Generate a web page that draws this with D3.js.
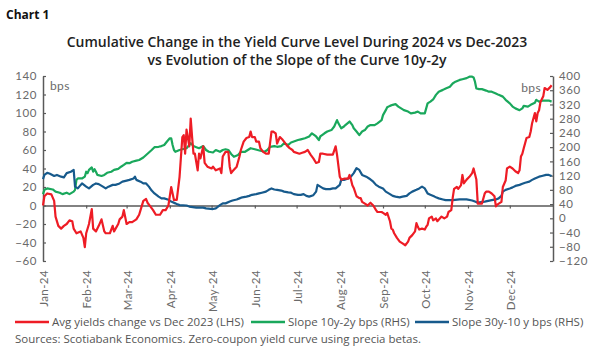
<!DOCTYPE html>
<html><head><meta charset="utf-8">
<script src="https://cdn.jsdelivr.net/npm/d3@7"></script>
<style>body{margin:0;background:#fff} svg{display:block}</style>
</head><body><svg id="c" width="592" height="350"></svg>
<script>
const redSeries = [["2024-01-01",0],["2024-01-02",10],["2024-01-04",13],["2024-01-07",12],["2024-01-09",5],["2024-01-10",-12],["2024-01-12",-22],["2024-01-14",-25],["2024-01-16",-22],["2024-01-18",-20],["2024-01-20",-16],["2024-01-22",-17],["2024-01-23",-25],["2024-01-25",-30],["2024-01-28",-28],["2024-01-30",-35],["2024-01-31",-45],["2024-02-01",-30],["2024-02-03",-20],["2024-02-05",-4],["2024-02-06",-25],["2024-02-08",-28],["2024-02-10",-22],["2024-02-12",-15],["2024-02-14",-28],["2024-02-15",-30],["2024-02-18",-30],["2024-02-20",-22],["2024-02-21",-28],["2024-02-24",-20],["2024-02-25",-15],["2024-02-27",-12],["2024-02-28",-5],["2024-03-01",-20],["2024-03-03",-18],["2024-03-05",-18],["2024-03-08",-15],["2024-03-10",-10],["2024-03-11",-5],["2024-03-13",5],["2024-03-15",7],["2024-03-16",3],["2024-03-18",-1],["2024-03-20",-5],["2024-03-22",-10],["2024-03-25",-10],["2024-03-27",-5],["2024-03-29",-5],["2024-03-31",0],["2024-04-02",20],["2024-04-04",6],["2024-04-06",6],["2024-04-08",31],["2024-04-10",74],["2024-04-11",76],["2024-04-12",56],["2024-04-13",82],["2024-04-15",64],["2024-04-16",94],["2024-04-17",74],["2024-04-18",56],["2024-04-19",56],["2024-04-21",38],["2024-04-22",56],["2024-04-23",51],["2024-04-25",64],["2024-04-26",46],["2024-04-28",42],["2024-05-01",40],["2024-05-02",42],["2024-05-04",38],["2024-05-07",40],["2024-05-08",35],["2024-05-09",53],["2024-05-11",58],["2024-05-13",58],["2024-05-14",42],["2024-05-15",35],["2024-05-16",37],["2024-05-19",42],["2024-05-21",53],["2024-05-22",60],["2024-05-24",69],["2024-05-26",73],["2024-05-28",74],["2024-05-29",80],["2024-05-30",74],["2024-06-01",74],["2024-06-02",69],["2024-06-04",69],["2024-06-05",62],["2024-06-07",58],["2024-06-09",56],["2024-06-11",56],["2024-06-13",80],["2024-06-14",80],["2024-06-16",78],["2024-06-17",67],["2024-06-19",74],["2024-06-21",71],["2024-06-22",69],["2024-06-24",65],["2024-06-26",62],["2024-06-28",60],["2024-06-29",58],["2024-07-03",56],["2024-07-05",57],["2024-07-07",58],["2024-07-09",60],["2024-07-11",55],["2024-07-13",51],["2024-07-15",46],["2024-07-17",47],["2024-07-18",56],["2024-07-20",56],["2024-07-23",55],["2024-07-27",55],["2024-07-29",64],["2024-07-30",55],["2024-08-01",31],["2024-08-02",28],["2024-08-04",29],["2024-08-07",29],["2024-08-08",33],["2024-08-09",28],["2024-08-10",22],["2024-08-11",19],["2024-08-13",10],["2024-08-15",8],["2024-08-16",8],["2024-08-17",4],["2024-08-19",2],["2024-08-21",0],["2024-08-23",3],["2024-08-25",0],["2024-08-27",-5],["2024-08-28",-7],["2024-08-31",-7],["2024-09-01",-8],["2024-09-03",-10],["2024-09-04",-8],["2024-09-06",-17],["2024-09-07",-25],["2024-09-08",-26],["2024-09-09",-30],["2024-09-11",-35],["2024-09-13",-39],["2024-09-15",-41],["2024-09-17",-43],["2024-09-19",-39],["2024-09-20",-35],["2024-09-22",-32],["2024-09-24",-28],["2024-09-25",-19],["2024-09-26",-23],["2024-09-27",-26],["2024-09-29",-25],["2024-10-01",-26],["2024-10-02",-23],["2024-10-03",-21],["2024-10-04",-14],["2024-10-06",-12],["2024-10-07",-16],["2024-10-09",-14],["2024-10-10",-17],["2024-10-13",-12],["2024-10-15",-14],["2024-10-17",-12],["2024-10-18",-7],["2024-10-20",-5],["2024-10-21",8],["2024-10-22",18],["2024-10-24",20],["2024-10-25",18],["2024-10-27",22],["2024-10-28",33],["2024-10-29",24],["2024-10-31",28],["2024-11-02",31],["2024-11-04",35],["2024-11-05",40],["2024-11-07",28],["2024-11-08",2],["2024-11-11",2],["2024-11-13",13],["2024-11-14",15],["2024-11-16",15],["2024-11-18",13],["2024-11-20",10],["2024-11-21",-1],["2024-11-22",1],["2024-11-25",4],["2024-11-26",20],["2024-11-28",27],["2024-11-29",40],["2024-12-01",42],["2024-12-03",40],["2024-12-05",37],["2024-12-07",35],["2024-12-08",38],["2024-12-09",53],["2024-12-10",56],["2024-12-11",62],["2024-12-13",73],["2024-12-15",74],["2024-12-16",80],["2024-12-17",89],["2024-12-19",100],["2024-12-20",91],["2024-12-21",100],["2024-12-22",103],["2024-12-23",112],["2024-12-25",118],["2024-12-26",127],["2024-12-28",125],["2024-12-30",128],["2024-12-31",130]];

const greenSeries = [["2024-01-01",68],["2024-01-02",80],["2024-01-04",84],["2024-01-08",81],["2024-01-10",75],["2024-01-13",72],["2024-01-15",68],["2024-01-18",72],["2024-01-20",68],["2024-01-23",75],["2024-01-24",80],["2024-01-25",108],["2024-01-26",112],["2024-01-29",112],["2024-01-31",117],["2024-02-01",131],["2024-02-02",127],["2024-02-03",136],["2024-02-05",143],["2024-02-06",131],["2024-02-07",138],["2024-02-08",131],["2024-02-09",122],["2024-02-12",119],["2024-02-14",122],["2024-02-16",128],["2024-02-19",131],["2024-02-21",136],["2024-02-24",139],["2024-02-26",145],["2024-02-28",150],["2024-03-01",156],["2024-03-03",155],["2024-03-05",159],["2024-03-08",162],["2024-03-10",164],["2024-03-13",171],["2024-03-15",178],["2024-03-17",185],["2024-03-19",192],["2024-03-21",200],["2024-03-24",201],["2024-03-26",203],["2024-03-28",206],["2024-03-30",216],["2024-04-01",225],["2024-04-02",225],["2024-04-03",206],["2024-04-04",192],["2024-04-05",187],["2024-04-08",192],["2024-04-10",194],["2024-04-13",197],["2024-04-15",206],["2024-04-16",211],["2024-04-18",203],["2024-04-20",200],["2024-04-22",197],["2024-04-25",203],["2024-04-27",192],["2024-04-29",187],["2024-05-02",185],["2024-05-04",192],["2024-05-07",187],["2024-05-09",192],["2024-05-11",194],["2024-05-13",192],["2024-05-15",181],["2024-05-17",173],["2024-05-20",178],["2024-05-22",187],["2024-05-25",187],["2024-05-27",192],["2024-05-29",197],["2024-06-01",194],["2024-06-03",192],["2024-06-05",190],["2024-06-08",187],["2024-06-10",192],["2024-06-12",201],["2024-06-15",203],["2024-06-17",201],["2024-06-20",203],["2024-06-22",211],["2024-06-25",206],["2024-06-27",213],["2024-06-29",216],["2024-07-02",220],["2024-07-04",222],["2024-07-07",225],["2024-07-10",230],["2024-07-12",239],["2024-07-15",230],["2024-07-17",220],["2024-07-18",230],["2024-07-21",239],["2024-07-23",244],["2024-07-26",248],["2024-07-28",258],["2024-07-30",276],["2024-07-31",267],["2024-08-02",253],["2024-08-04",258],["2024-08-05",262],["2024-08-08",272],["2024-08-10",262],["2024-08-11",253],["2024-08-13",244],["2024-08-15",234],["2024-08-17",244],["2024-08-19",248],["2024-08-21",258],["2024-08-23",262],["2024-08-26",262],["2024-08-28",267],["2024-08-31",276],["2024-09-01",290],["2024-09-03",304],["2024-09-04",312],["2024-09-06",316],["2024-09-08",319],["2024-09-10",321],["2024-09-12",314],["2024-09-14",309],["2024-09-16",304],["2024-09-19",300],["2024-09-21",295],["2024-09-24",297],["2024-09-26",300],["2024-09-28",295],["2024-10-01",295],["2024-10-02",309],["2024-10-03",323],["2024-10-05",328],["2024-10-07",334],["2024-10-09",347],["2024-10-11",356],["2024-10-14",361],["2024-10-16",365],["2024-10-19",370],["2024-10-21",379],["2024-10-23",384],["2024-10-26",389],["2024-10-28",391],["2024-10-31",394],["2024-11-02",398],["2024-11-04",398],["2024-11-05",396],["2024-11-06",384],["2024-11-07",365],["2024-11-09",363],["2024-11-11",363],["2024-11-14",359],["2024-11-16",356],["2024-11-18",356],["2024-11-21",351],["2024-11-23",347],["2024-11-26",342],["2024-11-28",333],["2024-12-01",323],["2024-12-03",314],["2024-12-05",309],["2024-12-08",304],["2024-12-10",309],["2024-12-11",316],["2024-12-14",314],["2024-12-16",319],["2024-12-19",325],["2024-12-20",333],["2024-12-22",328],["2024-12-25",331],["2024-12-27",331],["2024-12-29",331],["2024-12-31",328]];

const blueSeries = [["2024-01-01",110],["2024-01-02",122],["2024-01-04",128],["2024-01-06",125],["2024-01-09",119],["2024-01-11",122],["2024-01-14",117],["2024-01-16",115],["2024-01-18",127],["2024-01-21",131],["2024-01-23",136],["2024-01-24",89],["2024-01-26",84],["2024-01-27",89],["2024-01-29",98],["2024-02-01",89],["2024-02-03",84],["2024-02-06",94],["2024-02-08",98],["2024-02-10",96],["2024-02-13",89],["2024-02-15",84],["2024-02-17",89],["2024-02-20",94],["2024-02-22",94],["2024-02-25",98],["2024-02-27",103],["2024-03-01",106],["2024-03-03",108],["2024-03-06",112],["2024-03-07",117],["2024-03-08",108],["2024-03-11",103],["2024-03-13",98],["2024-03-15",98],["2024-03-17",89],["2024-03-19",78],["2024-03-21",70],["2024-03-24",61],["2024-03-26",56],["2024-03-28",56],["2024-03-31",52],["2024-04-02",47],["2024-04-05",42],["2024-04-06",40],["2024-04-08",37],["2024-04-13",36],["2024-04-15",33],["2024-04-20",30],["2024-04-25",30],["2024-04-27",28],["2024-05-02",26],["2024-05-04",28],["2024-05-07",37],["2024-05-09",42],["2024-05-11",42],["2024-05-14",47],["2024-05-16",50],["2024-05-19",53],["2024-05-21",56],["2024-05-23",59],["2024-05-26",61],["2024-05-28",63],["2024-05-30",66],["2024-06-02",68],["2024-06-04",70],["2024-06-06",72],["2024-06-09",75],["2024-06-11",80],["2024-06-13",84],["2024-06-15",81],["2024-06-17",80],["2024-06-20",78],["2024-06-22",75],["2024-06-25",73],["2024-06-27",72],["2024-06-29",68],["2024-07-02",66],["2024-07-04",66],["2024-07-06",68],["2024-07-08",63],["2024-07-10",61],["2024-07-13",65],["2024-07-15",75],["2024-07-16",94],["2024-07-18",89],["2024-07-20",84],["2024-07-22",82],["2024-07-25",82],["2024-07-27",84],["2024-07-29",84],["2024-08-01",94],["2024-08-02",108],["2024-08-04",108],["2024-08-07",112],["2024-08-09",117],["2024-08-11",127],["2024-08-13",141],["2024-08-15",136],["2024-08-17",122],["2024-08-20",117],["2024-08-22",112],["2024-08-25",103],["2024-08-27",94],["2024-08-29",89],["2024-09-01",84],["2024-09-03",75],["2024-09-06",68],["2024-09-08",63],["2024-09-10",61],["2024-09-13",59],["2024-09-15",61],["2024-09-18",63],["2024-09-20",70],["2024-09-22",75],["2024-09-25",80],["2024-09-27",84],["2024-09-29",89],["2024-10-01",84],["2024-10-03",70],["2024-10-05",66],["2024-10-08",61],["2024-10-09",59],["2024-10-11",56],["2024-10-14",53],["2024-10-16",51],["2024-10-21",51],["2024-10-26",53],["2024-10-31",53],["2024-11-04",50],["2024-11-06",47],["2024-11-08",44],["2024-11-13",47],["2024-11-18",51],["2024-11-21",53],["2024-11-23",56],["2024-11-25",63],["2024-11-26",75],["2024-11-28",80],["2024-12-01",84],["2024-12-03",87],["2024-12-05",91],["2024-12-08",94],["2024-12-10",97],["2024-12-12",100],["2024-12-15",103],["2024-12-17",108],["2024-12-19",112],["2024-12-22",117],["2024-12-24",119],["2024-12-27",122],["2024-12-29",122],["2024-12-31",119]];

const leftTicks = [-60,-40,-20,0,20,40,60,80,100,120,140];
const rightTicks = [-120,-80,-40,0,40,80,120,160,200,240,280,320,360,400];
const monthTicks = ["2024-01-01","2024-02-01","2024-03-01","2024-04-01","2024-05-01","2024-06-01","2024-07-01","2024-08-01","2024-09-01","2024-10-01","2024-11-01","2024-12-01"];
const xDomain = ["2024-01-01","2025-01-01"];
const seriesNames = ["Avg yields change vs Dec 2023 (LHS)","Slope 10y-2y bps (RHS)","Slope 30y-10 y bps (RHS)"];
const colors = {red:"#ee1c25", green:"#1aa85c", blue:"#175a8c"};

const parse = d3.timeParse("%Y-%m-%d");
const svg = d3.select("#c");
const L = 43, R = 553, T = 76, B = 261;
const font = "'Open Sans', 'Noto Sans', sans-serif";
const tickFont = "Lato, 'Open Sans', sans-serif";
const axisCol = "#595959";

const x = d3.scaleTime().domain(xDomain.map(parse)).range([L, R]);
const yL = d3.scaleLinear().domain([-60, 140]).range([B, T]);
const yR = d3.scaleLinear().domain([-120, 400]).range([B, T]);

// titles
svg.append("text").attr("x", 6).attr("y", 19).text("Chart 1")
  .attr("font-family", font).attr("font-weight", 700).attr("font-size", 12).attr("fill", "#111");
svg.append("text").attr("x", 297).attr("y", 47).attr("text-anchor", "middle")
  .attr("font-family", font).attr("font-weight", 600).attr("font-size", 14).attr("fill", "#222")
  .text("Cumulative Change in the Yield Curve Level During 2024 vs Dec-2023");
svg.append("text").attr("x", 297).attr("y", 65).attr("text-anchor", "middle")
  .attr("font-family", font).attr("font-weight", 600).attr("font-size", 14).attr("fill", "#222")
  .text("vs Evolution of the Slope of the Curve 10y-2y");

// axes
const gL = svg.append("g").attr("transform", `translate(${L},0)`)
  .call(d3.axisLeft(yL).tickValues(leftTicks).tickSizeInner(-3).tickSizeOuter(0).tickPadding(6));
const gR = svg.append("g").attr("transform", `translate(${R},0)`)
  .call(d3.axisRight(yR).tickValues(rightTicks).tickSizeInner(-3).tickSizeOuter(0).tickPadding(6));
const gX = svg.append("g").attr("transform", `translate(0,${yL(0)})`)
  .call(d3.axisBottom(x).tickValues(monthTicks.map(parse)).tickSizeInner(3).tickSizeOuter(0).tickFormat(""));
[gL, gR, gX].forEach(g => {
  g.selectAll("path.domain").attr("stroke", axisCol).attr("stroke-width", 1.5);
  g.selectAll(".tick line").attr("stroke", axisCol).attr("stroke-width", 1.2);
  g.selectAll(".tick text").attr("fill", "#6a6a6a").attr("font-family", tickFont)
    .attr("font-size", 11.5).attr("letter-spacing", 0.6);
});

// month labels
const fmt = d3.timeFormat("%b-%y");
svg.append("g").selectAll("text").data(monthTicks.map(parse)).join("text")
  .attr("transform", d => `translate(${x(d) + 1},270) rotate(-90)`)
  .attr("text-anchor", "end").attr("dy", "0.35em")
  .attr("font-family", tickFont).attr("font-size", 11.5).attr("letter-spacing", 0.4).attr("fill", "#6a6a6a")
  .text(d => fmt(d));

// unit labels
svg.append("text").attr("x", 50).attr("y", 90).text("bps").attr("font-family", tickFont).attr("font-size", 12).attr("letter-spacing", 0.4).attr("fill", "#6a6a6a");
svg.append("text").attr("x", 541).attr("y", 92).attr("text-anchor", "end").text("bps").attr("font-family", tickFont).attr("font-size", 12).attr("letter-spacing", 0.4).attr("fill", "#6a6a6a");

// lines
const lineL = d3.line().x(d => x(parse(d[0]))).y(d => yL(d[1]));
const lineR = d3.line().x(d => x(parse(d[0]))).y(d => yR(d[1]));
svg.append("path").datum(greenSeries).attr("d", lineR).attr("fill", "none").attr("stroke", colors.green).attr("stroke-width", 2.2).attr("stroke-linejoin", "round");
svg.append("path").datum(blueSeries).attr("d", lineR).attr("fill", "none").attr("stroke", colors.blue).attr("stroke-width", 2.2).attr("stroke-linejoin", "round");
svg.append("path").datum(redSeries).attr("d", lineL).attr("fill", "none").attr("stroke", colors.red).attr("stroke-width", 2.2).attr("stroke-linejoin", "round");

// legend
const legend = [
  {name: seriesNames[0], color: colors.red, x: 15},
  {name: seriesNames[1], color: colors.green, x: 251},
  {name: seriesNames[2], color: colors.blue, x: 415}
];
const lg = svg.append("g");
legend.forEach(it => {
  lg.append("line").attr("x1", it.x).attr("x2", it.x + 34).attr("y1", 322).attr("y2", 322)
    .attr("stroke", it.color).attr("stroke-width", 2.5);
  lg.append("text").attr("x", it.x + 37).attr("y", 322).attr("dy", "0.35em").text(it.name)
    .attr("font-family", font).attr("font-size", 11.5).attr("fill", "#555");
});
svg.append("text").attr("x", 15).attr("y", 339).attr("dy", "0.35em")
  .text("Sources: Scotiabank Economics. Zero-coupon yield curve using precia betas.")
  .attr("font-family", font).attr("font-size", 11.5).attr("fill", "#555");
</script>
</body></html>
